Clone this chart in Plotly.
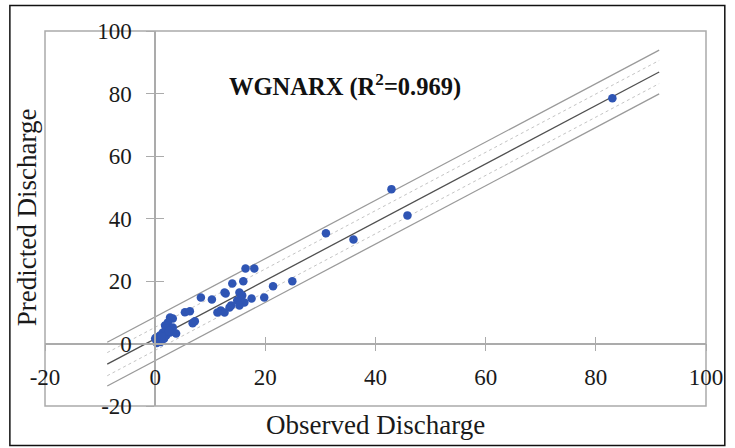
import plotly.graph_objects as go
import numpy as np

# Observed vs predicted discharge
observed = [83, 42.9, 45.8, 31, 36, 24.9,
            16.4, 18, 14, 16, 21.4, 8.3, 10.3, 12.6, 12.8,
            15.3, 15.8, 15.5, 14.9, 16.2, 17.5, 19.8, 13.8, 13.5, 15.3,
            11.9, 12.6, 11.3,
            5.4, 6.3, 7.2, 6.8, 3.2, 2.7,
            2.3, 1.8, 3.2, 2.0, 1.4, 2.7, 0.9, 0.2, 0.0, 0.5, 2.0, 3.8,
            1.0, 1.6, 2.5, 0.3, 1.2]
predicted = [78.5, 49.4, 41, 35.3, 33.3, 19.9,
             24, 24, 19.2, 19.9, 18.3, 14.7, 14.1, 16.3, 16,
             16.3, 15.4, 14.4, 13.8, 13.1, 14.4, 14.7, 12.2, 11.5, 12.2,
             10.6, 9.9, 9.9,
             10, 10.3, 7.1, 6.5, 8, 8.3,
             6.7, 5.8, 5.1, 4.8, 3.5, 3.5, 2.6, 1.9, 1.6, 1.0, 2.6, 3.2,
             0.5, 1.5, 4.0, 0.2, 2.2]

# Fit line and bands
fit_slope = 0.933
fit_intercept = 1.5
pred_band = 7.0
conf_band = 3.7
fit_x_range = [-8.7, 91.5]

x_ticks = [-20, 0, 20, 40, 60, 80, 100]
y_ticks = [-20, 0, 20, 40, 60, 80, 100]
x_tick_text = ["-20", "0", "20", "40", "60", "80", "100"]
y_tick_text = ["-20", "0", "20", "40", "60", "80", "100"]
title_text = "WGNARX (R<sup>2</sup>=0.969)"
x_title = "Observed Discharge"
y_title = "Predicted Discharge"

FONT = "Liberation Serif"
fx = np.array(fit_x_range)
fy = fit_slope * fx + fit_intercept

fig = go.Figure()
for off, col, dash, w in [(pred_band, "#9a9a9a", "solid", 1.3), (-pred_band, "#9a9a9a", "solid", 1.3),
                          (conf_band, "#c4c4c4", "dot", 1.0), (-conf_band, "#c4c4c4", "dot", 1.0),
                          (0, "#505050", "solid", 1.3)]:
    fig.add_trace(go.Scatter(x=fx, y=fy + off, mode="lines",
                             line=dict(color=col, width=w, dash=dash),
                             hoverinfo="skip", showlegend=False))
fig.add_trace(go.Scatter(x=observed, y=predicted, mode="markers",
                         marker=dict(color="#2f55b4", size=8.5),
                         showlegend=False))
# dummy trace to instantiate overlay axes (for crossing ticks)
fig.add_trace(go.Scatter(x=[None], y=[None], xaxis="x2", yaxis="y2", showlegend=False))

pos = 20 / 120
axcol = "#ababab"
common = dict(range=[-20, 100], showgrid=False, zeroline=False, fixedrange=True)
fig.update_layout(
    width=735, height=448,
    margin=dict(l=45, r=22, t=31, b=42),
    paper_bgcolor="white", plot_bgcolor="white",
    font=dict(family=FONT, size=23, color="#1a1a1a"),
    xaxis=dict(**common, tickvals=x_ticks, ticktext=x_tick_text, anchor="free", position=pos,
               showline=True, linecolor=axcol, linewidth=1.5,
               ticks="outside", ticklen=7, tickcolor=axcol, tickwidth=1.3,
               ticklabelstandoff=6),
    yaxis=dict(**common, tickvals=y_ticks, ticktext=y_tick_text, anchor="free", position=pos,
               showline=True, linecolor=axcol, linewidth=1.5,
               ticks="outside", ticklen=8, tickcolor=axcol, tickwidth=1.3,
               ticklabelstandoff=10),
    xaxis2=dict(**common, tickvals=x_ticks, overlaying="x", matches="x", anchor="free", position=pos,
                showline=False, ticks="inside", ticklen=7, tickcolor=axcol, tickwidth=1.3,
                showticklabels=False),
    yaxis2=dict(**common, tickvals=y_ticks, overlaying="y", matches="y", anchor="free", position=pos,
                showline=False, ticks="inside", ticklen=8, tickcolor=axcol, tickwidth=1.3,
                showticklabels=False),
)
# plot-area gray box
fig.add_shape(type="rect", xref="paper", yref="paper", x0=0, y0=0, x1=1, y1=1,
              line=dict(color=axcol, width=1.5), layer="below")
# outer black frame
fig.add_shape(type="rect", xref="paper", yref="paper",
              x0=(9.5 - 45) / 668, x1=(732 - 45) / 668,
              y0=(406 - 445.5) / 375, y1=(406 - 5.5) / 375,
              line=dict(color="#111111", width=1.5))
fig.add_annotation(text=f"<b>{title_text}</b>", xref="paper", yref="paper",
                   x=(348 - 45) / 668, y=(406 - 85) / 375, showarrow=False,
                   xanchor="center", yanchor="middle",
                   font=dict(family=FONT, size=24.5, color="#111111"))
fig.add_annotation(text=x_title, xref="paper", yref="paper",
                   x=(379 - 45) / 668, y=(406 - 425) / 375, showarrow=False,
                   xanchor="center", yanchor="middle",
                   font=dict(family=FONT, size=27))
fig.add_annotation(text=y_title, xref="paper", yref="paper", textangle=-90,
                   x=(27 - 45) / 668, y=(406 - 217) / 375, showarrow=False,
                   xanchor="center", yanchor="middle",
                   font=dict(family=FONT, size=27))
fig.write_html("out.html")
